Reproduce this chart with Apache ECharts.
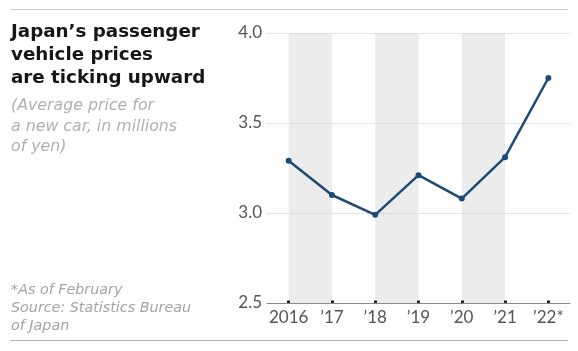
<!DOCTYPE html>
<html>
<head>
<meta charset="utf-8">
<script src="https://cdn.jsdelivr.net/npm/echarts@6/dist/echarts.min.js"></script>
<style>
  html, body { margin: 0; padding: 0; background: #fff; }
  #chart { width: 578px; height: 351px; }
</style>
</head>
<body>
<div id="chart"></div>
<script>
// data
var years = ['2016', '\u201917', '\u201918', '\u201919', '\u201920', '\u201921', '\u201922*'];
var prices = [3.29, 3.10, 2.99, 3.21, 3.08, 3.31, 3.75];
var bandPairs = [[0, 1], [2, 3], [4, 5]];

var titleLines = ['Japan\u2019s passenger', 'vehicle prices', 'are ticking upward'];
var subLines = ['(Average price for', 'a new car, in millions', 'of yen)'];
var noteLines = ['*As of February', 'Source: Statistics Bureau', 'of Japan'];

var chart = echarts.init(document.getElementById('chart'));

var bands = bandPairs.map(function (p) {
  return [{ xAxis: years[p[0]] }, { xAxis: years[p[1]] }];
});

chart.setOption({
  animation: false,
  grid: { left: 267, right: 8, top: 33, bottom: 48 },
  graphic: [
    { type: 'line', shape: { x1: 10, y1: 9.5, x2: 568, y2: 9.5 }, style: { stroke: '#c8c8c8', lineWidth: 1 } },
    { type: 'line', shape: { x1: 10, y1: 340.5, x2: 568, y2: 340.5 }, style: { stroke: '#b0b0b0', lineWidth: 1 } },
    { type: 'text', left: 11, top: 21, style: { text: titleLines.join('\n'), font: 'bold 18.3px "DejaVu Sans"', lineHeight: 23, fill: '#161616' } },
    { type: 'text', left: 11, top: 96, style: { text: subLines.join('\n'), font: 'italic 15.8px "DejaVu Sans"', lineHeight: 20.3, fill: '#b0b0b0' } },
    { type: 'text', left: 11, top: 281.5, style: { text: noteLines.join('\n'), font: 'italic 14.3px "DejaVu Sans"', lineHeight: 18, fill: '#a4a4a4' } }
  ],
  xAxis: {
    type: 'category',
    data: years,
    boundaryGap: true,
    z: 3,
    axisLine: { lineStyle: { color: '#8a8a8a', width: 1 } },
    axisTick: { show: true, interval: 0, alignWithLabel: true, inside: true, length: 2.5, lineStyle: { color: '#222', width: 3 } },
    axisLabel: { interval: 0, color: '#555', fontFamily: 'Lato', fontSize: 17, margin: 6 },
    splitLine: { show: false }
  },
  yAxis: {
    type: 'value',
    min: 2.5,
    max: 4.0,
    interval: 0.5,
    z: 2,
    axisLine: { show: false },
    axisTick: { show: false },
    axisLabel: { color: '#555', fontFamily: 'Lato', fontSize: 17, margin: 5, formatter: function (v) { return v.toFixed(1); } },
    splitLine: { lineStyle: { color: '#cfcfcf', type: 'dotted', width: 1 } }
  },
  series: [{
    // background bands only
    type: 'line',
    data: [],
    z: 0,
    markArea: {
      silent: true,
      itemStyle: { color: '#ececec' },
      data: bands
    }
  }, {
    type: 'line',
    data: prices,
    symbol: 'circle',
    symbolSize: 6,
    lineStyle: { color: '#1f4a74', width: 2.5 },
    itemStyle: { color: '#1f4a74' },
    z: 5
  }]
});
</script>
</body>
</html>
